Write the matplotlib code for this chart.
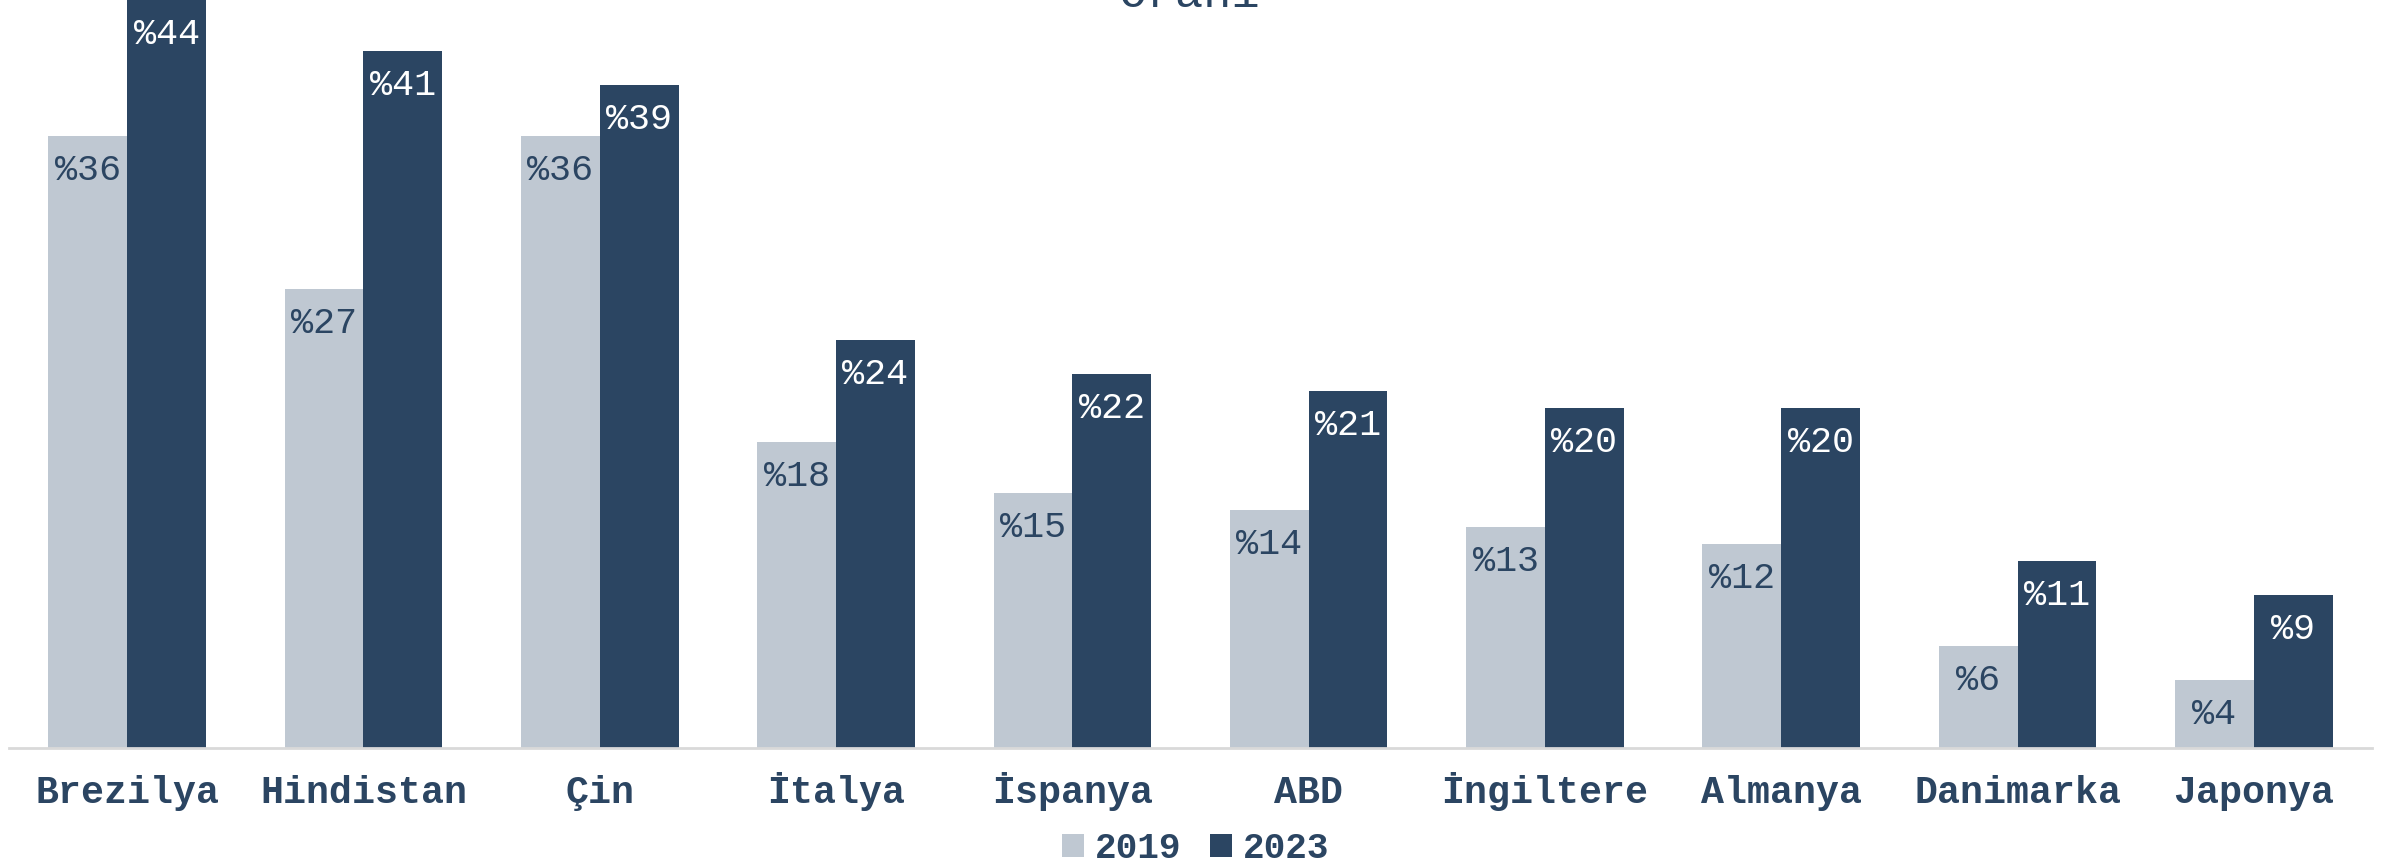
import matplotlib.pyplot as plt
import numpy as np

# veriler
ulkeler = ['Brezilya', 'Hindistan', 'Çin', 'İtalya', 'İspanya', 'ABD',
           'İngiltere', 'Almanya', 'Danimarka', 'Japonya']
oran_2019 = [36, 27, 36, 18, 15, 14, 13, 12, 6, 4]
oran_2023 = [44, 41, 39, 24, 22, 21, 20, 20, 11, 9]
yillar = ['2019', '2023']

acik = '#BFC8D2'
koyu = '#2B4562'
font = 'Liberation Mono'

fig = plt.figure(figsize=(23.94, 8.67), dpi=100)
ax = fig.add_axes([9 / 2394, 1 - 748 / 867, (2372 - 9) / 2394, 748 / 867])

x = np.arange(len(ulkeler))
w = 1 / 3
b1 = ax.bar(x - w / 2, oran_2019, w, color=acik, label=yillar[0])
b2 = ax.bar(x + w / 2, oran_2023, w, color=koyu, label=yillar[1])

# bar etiketleri (çubuğun içinde, üst kısımda)
for bars, renk in ((b1, koyu), (b2, 'white')):
    for b in bars:
        h = b.get_height()
        ax.annotate(f'%{h:g}', (b.get_x() + b.get_width() / 2, h),
                    xytext=(0, -24.5), textcoords='offset points',
                    ha='center', va='center', color=renk,
                    fontfamily=font, fontsize=26.5)

ax.set_xlim(-0.5, len(ulkeler) - 0.5)
ax.set_ylim(0, 44)
ax.set_xticks(x)
ax.set_xticklabels(ulkeler, fontfamily=font, fontweight='bold',
                   fontsize=27.5, color=koyu)
ax.tick_params(axis='x', length=0, pad=39.5)
for lbl in ax.get_xticklabels():
    lbl.set_va('baseline')  # İ'li etiketler aynı hizada kalsın
ax.set_yticks([])
for s in ['top', 'right', 'left']:
    ax.spines[s].set_visible(False)
ax.spines['bottom'].set_color('#D9D9D9')
ax.spines['bottom'].set_linewidth(2)

# başlık (üstü kesik)
fig.text(0.497, 1 - 7 / 867, 'Oranı', ha='center', va='baseline',
         fontfamily=font, fontsize=34, color=koyu)

leg = fig.legend(loc='center', bbox_to_anchor=(0.4994, 1 - 849 / 867),
                 ncol=2, frameon=False, handlelength=0.6, handleheight=0.6,
                 handletextpad=0.3, columnspacing=0.8,
                 prop={'family': font, 'weight': 'bold', 'size': 26})
for t in leg.get_texts():
    t.set_color(koyu)

fig.savefig('out.png', dpi=100)
